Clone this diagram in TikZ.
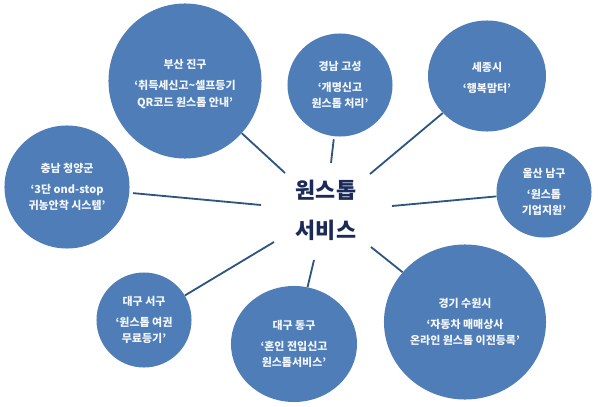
\documentclass[tikz,border=0pt]{standalone}
\usepackage{fontspec}
\setmainfont{Noto Sans CJK KR}
\usetikzlibrary{shapes.geometric}
\definecolor{bubbleblue}{HTML}{4F7DB8}
\definecolor{spokeblue}{HTML}{2F5682}
\definecolor{hubnavy}{HTML}{1B2A58}
\tikzset{
  bubble/.style={ellipse,fill=bubbleblue,text=white!93!bubbleblue,inner sep=0pt,align=center,font=\fontsize{7.8}{11.6}\selectfont\bfseries},
  spoke/.style={spokeblue,line width=1.3pt},
  hubtext/.style={text=hubnavy,font=\fontsize{15.5}{15.5}\selectfont\bfseries}
}
\begin{document}
\begin{tikzpicture}[x=0.025cm,y=-0.025cm]
    \useasboundingbox (0,0) rectangle (600,407);

    % bubbles
    \node [bubble,minimum width=3.825cm,minimum height=3.875cm] (busan) at (185,81)
        {\rule{0pt}{11pt}부산 진구\\[3.4pt]‘취득세신고\textasciitilde 셀프등기\\QR코드 원스톱 안내’};
    \node [bubble,minimum width=2.625cm,minimum height=2.575cm] (goseong) at (340,85)
        {경남 고성\\[3.4pt]‘개명신고\\원스톱 처리’};
    \node [bubble,minimum width=2.95cm,minimum height=2.775cm] (sejong) at (487,76)
        {\rule{0pt}{9.5pt}세종시\\[3.4pt]‘행복맘터’};
    \node [bubble,minimum width=2.375cm,minimum height=2.275cm] (ulsan) at (544,192)
        {울산 남구\\[3.4pt]‘원스톱\\기업지원’};
    \node [bubble,minimum width=3.125cm,minimum height=3.075cm] (cheongyang) at (67,187)
        {충남 청양군\\[3.4pt]‘3단 ond-stop\\귀농안착 시스템’};
    \node [bubble,minimum width=2.375cm,minimum height=2.375cm] (seogu) at (144,320)
        {대구 서구\\[3.4pt]‘원스톱 여권\\무료등기’};
    \node [bubble,minimum width=3.15cm,minimum height=2.9cm] (donggu) at (294,344)
        {대구 동구\\[3.4pt]‘혼인 전입신고\\원스톱서비스’};
    \node [bubble,minimum width=4.05cm,minimum height=3.875cm] (suwon) at (465,322)
        {경기 수원시\\[3.4pt]‘자동차 매매상사\\온라인 원스톱 이전등록’};

    % centre
    \node [hubtext] (hubtop) at (326,190) {원스톱};
    \node [hubtext] (hubbottom) at (326,230) {서비스};

    % spoke ends
    \coordinate (busanend) at (285,173);
    \coordinate (goseongend) at (331,163);
    \coordinate (sejongend) at (370,174);
    \coordinate (ulsanend) at (392,206);
    \coordinate (cheongyangend) at (261,205);
    \coordinate (seoguend) at (274,242);
    \coordinate (dongguend) at (314,260);
    \coordinate (suwonend) at (371,247);

    \draw [spoke] (busan) -- (busanend);
    \draw [spoke,shorten <=2pt] (goseong) -- (goseongend);
    \draw [spoke] (sejong) -- (sejongend);
    \draw [spoke] (ulsan) -- (ulsanend);
    \draw [spoke,shorten <=2.5pt] (cheongyang) -- (cheongyangend);
    \draw [spoke] (seogu) -- (seoguend);
    \draw [spoke] (donggu) -- (dongguend);
    \draw [spoke] (suwon) -- (suwonend);
\end{tikzpicture}
\end{document}
